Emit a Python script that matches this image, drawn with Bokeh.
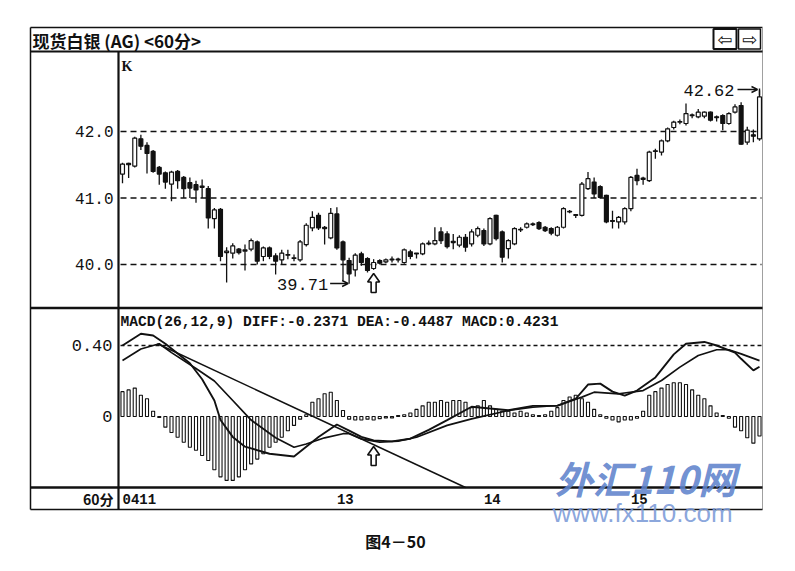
from bokeh.plotting import figure
from bokeh.models import Range1d, ColumnDataSource, Arrow, OpenHead
from bokeh.core.properties import value
from bokeh.embed import file_html
from bokeh.resources import INLINE

# ------------------------------------------------------------------ data
bar_index = list(range(105))
open_ = [41.36, 41.52, 41.48, 41.89, 41.79, 41.70, 41.46, 41.38, 41.21, 41.40,
         41.31, 41.23, 41.20, 41.18, 41.14, 40.69, 40.83, 40.18, 40.17, 40.23,
         40.20, 40.23, 40.34, 40.12, 40.25, 40.13, 40.07, 40.15, 40.10, 40.07,
         40.30, 40.55, 40.74, 40.56, 40.40, 40.76, 40.34, 40.06, 39.92, 40.16,
         40.09, 39.94, 40.06, 40.04, 40.07, 40.08, 40.03, 40.19, 40.17, 40.16,
         40.31, 40.31, 40.49, 40.46, 40.35, 40.29, 40.41, 40.31, 40.44, 40.51,
         40.31, 40.74, 40.49, 40.24, 40.31, 40.53, 40.56, 40.61, 40.63, 40.56,
         40.54, 40.44, 40.56, 40.80, 40.75, 40.74, 41.14, 41.24, 41.17, 41.04,
         40.66, 40.64, 40.64, 40.84, 41.34, 41.28, 41.26, 41.71, 41.69, 41.86,
         42.06, 42.14, 42.12, 42.24, 42.22, 42.23, 42.29, 42.22, 42.24, 42.12,
         42.29, 42.39, 41.84, 41.95, 41.89]
high = [41.53, 41.53, 41.92, 41.95, 41.84, 41.72, 41.48, 41.40, 41.41, 41.42,
        41.33, 41.31, 41.26, 41.28, 41.18, 40.85, 40.85, 40.26, 40.32, 40.25,
        40.30, 40.39, 40.36, 40.27, 40.27, 40.17, 40.22, 40.22, 40.15, 40.37,
        40.62, 40.80, 40.78, 40.58, 40.85, 40.86, 40.36, 40.10, 40.17, 40.19,
        40.11, 40.08, 40.08, 40.09, 40.12, 40.10, 40.24, 40.22, 40.17, 40.33,
        40.36, 40.56, 40.56, 40.50, 40.46, 40.44, 40.46, 40.53, 40.57, 40.54,
        40.71, 40.75, 40.51, 40.38, 40.56, 40.56, 40.63, 40.63, 40.65, 40.58,
        40.56, 40.58, 40.86, 40.82, 40.75, 41.24, 41.39, 41.31, 41.19, 41.05,
        40.81, 40.73, 40.86, 41.33, 41.44, 41.32, 41.71, 41.74, 41.88, 42.06,
        42.16, 42.18, 42.42, 42.27, 42.34, 42.30, 42.30, 42.24, 42.26, 42.29,
        42.41, 42.44, 42.07, 42.03, 42.62]
low = [41.22, 41.30, 41.46, 41.72, 41.37, 41.38, 41.20, 41.14, 40.95, 41.14,
       41.00, 41.00, 40.93, 41.00, 40.54, 40.54, 40.05, 39.73, 40.09, 40.15,
       39.91, 40.20, 40.00, 40.05, 40.08, 39.85, 40.00, 40.08, 40.05, 40.04,
       40.27, 40.50, 40.52, 40.30, 40.38, 40.22, 39.76, 39.71, 39.82, 39.98,
       39.88, 39.92, 40.00, 40.02, 40.03, 40.03, 40.01, 40.08, 40.09, 40.14,
       40.29, 40.29, 40.31, 40.24, 40.23, 40.26, 40.19, 40.27, 40.41, 40.28,
       40.29, 40.36, 40.03, 40.09, 40.29, 40.49, 40.54, 40.58, 40.52, 40.49,
       40.44, 40.42, 40.54, 40.77, 40.70, 40.72, 41.12, 41.00, 40.99, 40.62,
       40.54, 40.54, 40.60, 40.80, 41.19, 41.20, 41.24, 41.59, 41.64, 41.84,
       42.03, 42.11, 42.09, 42.20, 42.20, 42.20, 42.15, 42.15, 42.02, 42.10,
       42.27, 41.80, 41.80, 41.84, 41.86]
close = [41.51, 41.50, 41.90, 41.78, 41.67, 41.40, 41.36, 41.24, 41.39, 41.26,
         41.14, 41.15, 41.12, 41.16, 40.70, 40.82, 40.12, 40.20, 40.28, 40.18,
         40.22, 40.36, 40.05, 40.25, 40.12, 40.05, 40.17, 40.14, 40.09, 40.34,
         40.59, 40.71, 40.55, 40.54, 40.77, 40.25, 40.07, 39.86, 40.14, 40.03,
         39.91, 40.03, 40.02, 40.07, 40.08, 40.07, 40.22, 40.12, 40.16, 40.31,
         40.32, 40.36, 40.36, 40.27, 40.33, 40.41, 40.26, 40.49, 40.54, 40.31,
         40.69, 40.39, 40.11, 40.36, 40.54, 40.52, 40.61, 40.60, 40.54, 40.51,
         40.47, 40.56, 40.84, 40.79, 40.74, 41.21, 41.29, 41.06, 41.01, 40.64,
         40.65, 40.71, 40.84, 41.31, 41.26, 41.30, 41.69, 41.70, 41.86, 42.04,
         42.14, 42.15, 42.27, 42.25, 42.29, 42.29, 42.17, 42.21, 42.12, 42.27,
         42.37, 41.81, 42.02, 41.93, 42.52]

macd_hist = [0.14, 0.15, 0.16, 0.12, 0.10, 0.03, -0.005, -0.06, -0.09, -0.117,
             -0.145, -0.173, -0.19, -0.22, -0.248, -0.30, -0.34, -0.36, -0.36, -0.34,
             -0.30, -0.267, -0.24, -0.21, -0.173, -0.145, -0.117, -0.08, -0.05, -0.015,
             0.01, 0.08, 0.10, 0.128, 0.137, 0.09, 0.034, -0.015, -0.02, -0.02,
             -0.015, -0.02, -0.012, -0.008, -0.008, 0.005, 0.01, 0.02, 0.04, 0.06,
             0.08, 0.08, 0.09, 0.08, 0.09, 0.09, 0.08, 0.05, 0.06, 0.09,
             0.06, 0.04, 0.03, 0.03, 0.02, 0.03, 0.02, 0.01, 0.005, 0.01,
             0.03, 0.05, 0.09, 0.11, 0.12, 0.10, 0.08, 0.04, 0.01, -0.01,
             -0.02, -0.03, -0.02, -0.02, -0.01, 0.03, 0.12, 0.14, 0.16, 0.18,
             0.19, 0.19, 0.18, 0.15, 0.12, 0.10, 0.06, 0.02, 0.005, -0.01,
             -0.06, -0.08, -0.12, -0.15, -0.11]

diff_bar = [0, 3, 5, 7, 11, 13, 15, 16, 18, 20, 24, 28, 30, 32, 35, 37, 39, 41, 44, 47,
            50, 53, 57, 63, 67, 71, 74, 76, 78, 80, 82, 84, 87, 90, 92, 95, 97, 100, 101, 103, 104]
diff_val = [0.40, 0.466, 0.456, 0.41, 0.30, 0.21, 0.09, -0.02, -0.115, -0.17, -0.21, -0.225,
            -0.17, -0.115, -0.045, -0.08, -0.115, -0.135, -0.14, -0.125, -0.075, -0.02, 0.055,
            0.035, 0.06, 0.06, 0.10, 0.18, 0.185, 0.14, 0.118, 0.146, 0.22, 0.35, 0.41, 0.42,
            0.40, 0.36, 0.325, 0.26, 0.28]
dea_bar = [0, 3, 6, 8, 12, 15, 18, 21, 25, 28, 30, 33, 36, 37, 39, 42, 45, 48, 53, 57,
           63, 67, 71, 75, 77, 81, 85, 88, 91, 94, 97, 99, 101, 104]
dea_val = [0.315, 0.38, 0.41, 0.36, 0.27, 0.20, 0.09, -0.02, -0.12, -0.173, -0.155, -0.12,
           -0.097, -0.097, -0.126, -0.145, -0.139, -0.117, -0.05, -0.013, 0.034, 0.052, 0.062,
           0.109, 0.137, 0.128, 0.146, 0.203, 0.278, 0.344, 0.376, 0.376, 0.353, 0.315]
trend_bar = [5.7, 56.0]
trend_val = [0.41, -0.40]

price_ticks = [40.0, 41.0, 42.0]
price_tick_labels = ["40.0", "41.0", "42.0"]
macd_ticks = [0.0, 0.40]
macd_tick_labels = ["0", "0.40"]
day_start_bar = [0, 35, 59, 83]
day_labels = ["0411", "13", "14", "15"]
low_bar, low_label = 37, "39.71"
high_bar, high_label = 104, "42.62"
signal_bar = 41
title_text = "现货白银 (AG) <60分>"
macd_header = "MACD(26,12,9) DIFF:-0.2371 DEA:-0.4487 MACD:0.4231"
period_label = "60分"
caption = "图4－50"

# ------------------------------------------------------------------ layout helpers
W, H = 779, 555
OX, OY = 0, 0                  # canvas origin in window pixels
PX0, PX_STEP = 122.0, 6.125    # pixel of bar 0, pixel per bar
PY_42, PY_PER_1 = 131.0, 66.5  # pixel of price 42.0, pixels per 1.0
PY_M0, PY_PER_M = 416.0, 177.5  # pixel of macd 0, pixels per 1.0


def X(px):
    return (px - PX0) / PX_STEP


def Y(py):
    return 42.0 - (py - PY_42) / PY_PER_1


def M(py):
    return (PY_M0 - py) / PY_PER_M


def bar_px(i):
    return PX0 + PX_STEP * i


p = figure(width=W, height=H, x_range=Range1d(X(OX), X(OX + W)),
           y_range=Range1d(Y(OY + H), Y(OY)),
           x_axis_type=None, y_axis_type=None, toolbar_location=None,
           output_backend="svg", min_border=0, outline_line_color=None)
p.extra_y_ranges = {"macd": Range1d(M(OY + H), M(OY))}
p.background_fill_color = "white"
p.border_fill_color = "white"

INK = "#111111"

# ---------------- frame structure
frame_lines = [
    (30, 27, 762, 27, 1.5, INK),
    (30, 27, 30, 509, 1.5, INK),
    (762, 27, 762, 509, 1.0, "#a0a0a0"),
    (30, 51, 762, 51, 2.2, INK),
    (30, 307.5, 762, 307.5, 2.6, INK),
    (30, 487, 762, 487, 2.6, INK),
    (30, 509, 762, 509, 1.5, INK),
    (118, 51, 118, 509, 2.2, INK),
]
for x0, y0, x1, y1, lw, col in frame_lines:
    p.segment(x0=[X(x0)], y0=[Y(y0)], x1=[X(x1)], y1=[Y(y1)], line_width=lw, line_color=col)

# title bar buttons
p.quad(left=[X(713)], right=[X(736)], top=[Y(28.5)], bottom=[Y(48.5)],
       fill_color="white", line_color=INK, line_width=2)
p.quad(left=[X(738)], right=[X(760)], top=[Y(28.5)], bottom=[Y(48.5)],
       fill_color="white", line_color=INK, line_width=1.5)


def txt(x, y, s, size, font="Liberation Mono", align="left", style="normal",
        color=INK, y_range_name="default", alpha=1.0, baseline="middle"):
    p.text(x=x, y=y, text=s, text_font=value(font), text_font_size=value(size),
           text_align=align, text_baseline=baseline, text_font_style=style,
           text_color=color, text_alpha=alpha, y_range_name=y_range_name)


txt([X(724.5)], [Y(38.5)], ["⇦"], "18px", font="DejaVu Sans", align="center")
txt([X(749)], [Y(38.5)], ["⇨"], "18px", font="DejaVu Sans", align="center")
txt([X(32)], [Y(39.5)], [title_text], "17px", font="Noto Sans CJK SC", style="bold")

# ---------------- price panel
p.segment(x0=[X(120)] * 3, y0=price_ticks, x1=[X(761)] * 3, y1=price_ticks,
          line_color=INK, line_width=1.5, line_dash="6 4")
txt([X(113)] * 3, price_ticks, price_tick_labels, "16px", align="right")
txt([X(121)], [Y(66)], ["K"], "14px", font="Liberation Serif", style="bold")

top_b = [max(o, c) for o, c in zip(open_, close)]
bot_b = [min(o, c) for o, c in zip(open_, close)]
fill = ["white" if c >= o else INK for o, c in zip(open_, close)]
src = ColumnDataSource(dict(i=bar_index, high=high, low=low, top=top_b, bottom=bot_b, fill=fill))
p.segment(x0="i", y0="high", x1="i", y1="low", source=src, line_color=INK, line_width=1.3)
p.vbar(x="i", top="top", bottom="bottom", width=0.64, fill_color="fill", line_color=INK,
       line_width=1.2, source=src)

# annotations on price panel
low_px = bar_px(low_bar)
txt([X(low_px - 21)], [Y(283.5)], [low_label], "17px", align="right")
p.add_layout(Arrow(end=OpenHead(size=6, line_width=1.4, line_color=INK),
                   x_start=X(low_px - 19), y_start=Y(283), x_end=X(low_px - 1), y_end=Y(283),
                   line_width=1.4, line_color=INK))
high_px = bar_px(high_bar)
txt([X(high_px - 25)], [Y(90)], [high_label], "17px", align="right")
p.add_layout(Arrow(end=OpenHead(size=6, line_width=1.4, line_color=INK),
                   x_start=X(high_px - 22), y_start=Y(89), x_end=X(high_px - 2), y_end=Y(89),
                   line_width=1.4, line_color=INK))
p.segment(x0=[X(high_px)], y0=[Y(88)], x1=[X(high_px)], y1=[Y(95)], line_color=INK, line_width=1.4)


def up_arrow(cx, cy):
    shape = [(0, -10), (6, -1.5), (2.5, -1.5), (2.5, 9), (-2.5, 9), (-2.5, -1.5), (-6, -1.5)]
    p.patch(x=[X(cx + dx) for dx, dy in shape], y=[Y(cy + dy) for dx, dy in shape],
            fill_color="white", line_color=INK, line_width=1.6)


sig_px = bar_px(signal_bar)
up_arrow(sig_px, 283)

# ---------------- MACD panel
p.segment(x0=[X(120)], y0=[macd_ticks[1]], x1=[X(761)], y1=[macd_ticks[1]],
          line_color=INK, line_width=1.3, line_dash="4 3", y_range_name="macd")
txt([X(112)] * 2, macd_ticks, macd_tick_labels, "17px", align="right", y_range_name="macd")
txt([X(120)], [Y(321)], [macd_header], "14.6px", style="bold")

p.vbar(x=bar_index, top=macd_hist, bottom=0, width=0.5, fill_color=None, line_color=INK,
       line_width=1.1, y_range_name="macd")
p.line(trend_bar, trend_val, line_color=INK, line_width=1.5, y_range_name="macd")
p.line(dea_bar, dea_val, line_color=INK, line_width=1.7, y_range_name="macd")
p.line(diff_bar, diff_val, line_color=INK, line_width=1.9, y_range_name="macd")
up_arrow(sig_px, 456)

# ---------------- time row
txt([X(113)], [Y(498)], [period_label], "14px", font="Noto Sans CJK SC", align="right", style="bold")
txt(day_start_bar, [Y(498)] * len(day_start_bar), day_labels, "14px", style="bold")

# ---------------- caption and watermark
txt([X(395)], [Y(540)], [caption], "16px", font="Noto Sans CJK SC", align="center", style="bold")
txt([X(645)], [Y(477)], ["外汇110网"], "38px", font="Noto Sans CJK SC", align="center",
    style="bold italic", color="#5f83cc", alpha=0.9)
txt([X(642)], [Y(512)], ["www.fx110.com"], "26px", font="Liberation Sans", align="center",
    color="#7c9bd8", alpha=0.9)

open("out.html", "w").write(file_html(p, INLINE))
